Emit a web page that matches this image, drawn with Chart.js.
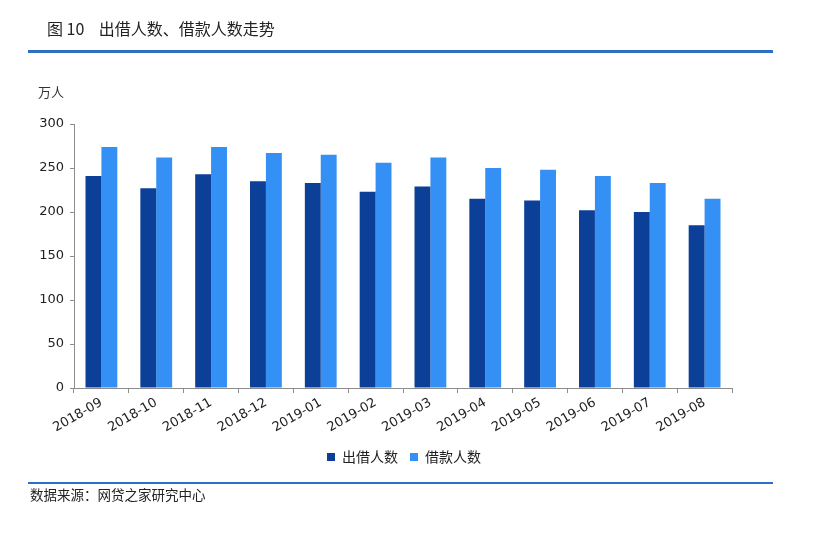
<!DOCTYPE html>
<html>
<head>
<meta charset="utf-8">
<script src="https://cdn.jsdelivr.net/npm/chart.js@4"></script>
<style>
  html, body { margin: 0; padding: 0; background: #fff; }
  #wrap { position: relative; width: 818px; height: 533px; overflow: hidden; }
  #c { position: absolute; left: 0; top: 0; }
  .txt { position: absolute; font-family: "Noto Sans CJK SC", "DejaVu Sans", sans-serif; color: #222; white-space: nowrap; }
  .rule { position: absolute; background: #2d6fc6; }
</style>
</head>
<body>
<div id="wrap">
  <canvas id="c" width="818" height="533"></canvas>
  <div class="txt" style="left:47px; top:17px; font-size:16px; line-height:22px;">图 10&nbsp;&nbsp;&nbsp;&nbsp;出借人数、借款人数走势</div>
  <div class="rule" style="left:28px; top:50px; width:745px; height:3px;"></div>
  <div class="txt" style="left:38px; top:83px; font-size:13px; line-height:18px; color:#333;">万人</div>
  <div class="rule" style="left:28px; top:482px; width:745px; height:2px;"></div>
  <div class="txt" style="left:30px; top:486px; font-size:13.5px; line-height:17px; color:#222;">数据来源：网贷之家研究中心</div>
</div>
<script>
const categories = ['2018-09','2018-10','2018-11','2018-12','2019-01','2019-02','2019-03','2019-04','2019-05','2019-06','2019-07','2019-08'];
const lenders = [241, 227, 243, 235, 233, 223, 229, 215, 213, 202, 200, 185];
const borrowers = [274, 262, 274, 267, 265, 256, 262, 250, 248, 241, 233, 215];
const yTicks = [0, 50, 100, 150, 200, 250, 300];

const axisColor = '#8c8c8c';
const legendShift = {
  id: 'legendShift',
  afterLayout(chart) {
    const lg = chart.legend;
    if (lg) { lg.left += 28; lg.right += 28; }
  }
};
new Chart(document.getElementById('c'), {
  type: 'bar',
  data: {
    labels: categories,
    datasets: [
      { label: '出借人数', data: lenders, backgroundColor: '#0C3F98', borderWidth: 0 },
      { label: '借款人数', data: borrowers, backgroundColor: '#3590F6', borderWidth: 0 }
    ]
  },
  plugins: [legendShift],
  options: {
    responsive: false,
    animation: false,
    layout: { padding: { left: 20, right: 86, top: 124, bottom: 59 } },
    datasets: { bar: { categoryPercentage: 0.58, barPercentage: 1.0 } },
    plugins: {
      tooltip: { enabled: false },
      legend: {
        position: 'bottom',
        labels: {
          boxWidth: 8, boxHeight: 8, padding: 12,
          color: '#222',
          font: { family: '"Noto Sans CJK SC", sans-serif', size: 14 }
        }
      }
    },
    scales: {
      x: {
        grid: { display: true, drawOnChartArea: false, offset: true, color: axisColor, tickLength: 5 },
        border: { color: axisColor, width: 1 },
        ticks: {
          minRotation: 30, maxRotation: 30, padding: 2,
          color: '#222',
          font: { family: '"DejaVu Sans", sans-serif', size: 13 }
        },
        afterFit: (s) => { s.height = 50; }
      },
      y: {
        min: 0, max: 300,
        afterBuildTicks: (s) => { s.ticks = yTicks.map(v => ({ value: v })); },
        grid: { display: true, drawOnChartArea: false, color: axisColor, tickLength: 4 },
        border: { color: axisColor, width: 1 },
        ticks: {
          padding: 6,
          color: '#222',
          font: { family: '"DejaVu Sans", sans-serif', size: 13 }
        },
        afterFit: (s) => { s.width = 54; }
      }
    }
  }
});
</script>
</body>
</html>
